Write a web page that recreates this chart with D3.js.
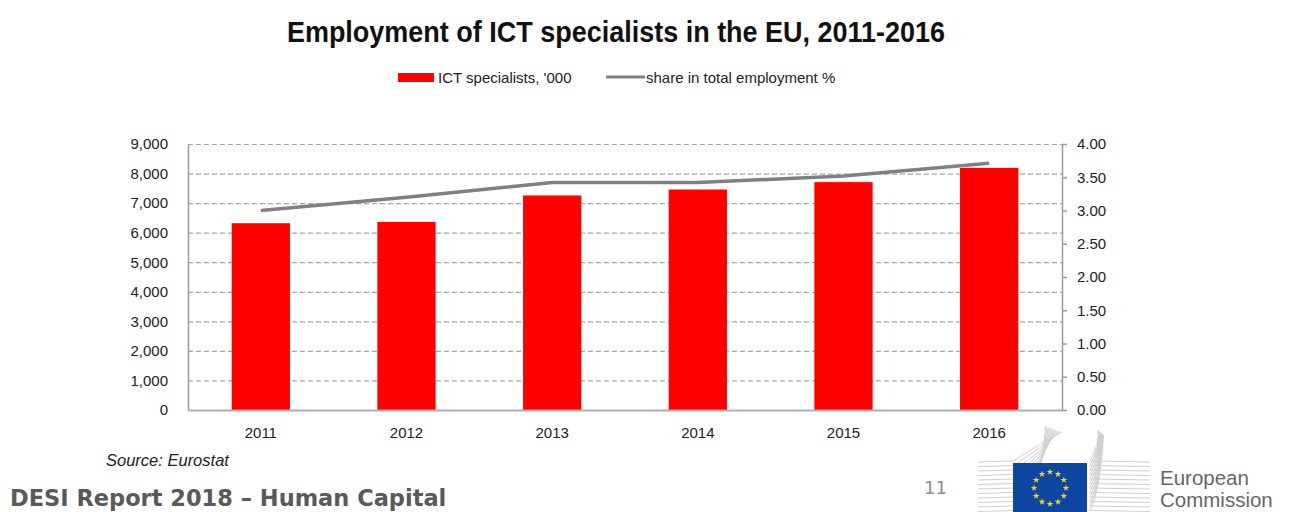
<!DOCTYPE html>
<html>
<head>
<meta charset="utf-8">
<script src="https://cdn.jsdelivr.net/npm/d3@7/dist/d3.min.js"></script>
<style>
  html, body { margin: 0; padding: 0; background: #fff; }
  svg { display: block; }
  text { font-family: "Liberation Sans", Arial, sans-serif; fill: #222; }
</style>
</head>
<body>
<svg id="chart" width="1294" height="512"></svg>
<script>
// ICT specialists employed in the EU (thousands) and their share in total employment (%)
const years = ["2011", "2012", "2013", "2014", "2015", "2016"];
const ictSpecialists = [6320, 6360, 7260, 7460, 7710, 8190];
const employmentShare = [3.00, 3.20, 3.42, 3.42, 3.52, 3.71];
const leftTicks = [0, 1000, 2000, 3000, 4000, 5000, 6000, 7000, 8000, 9000];
const rightTicks = [0, 0.5, 1, 1.5, 2, 2.5, 3, 3.5, 4];
const legendLabels = ["ICT specialists, '000", "share in total employment %"];

const svg = d3.select("#chart");
const plot = { left: 188, right: 1062, top: 144, bottom: 410 };

const x = d3.scaleBand().domain(years).range([plot.left, plot.right]).paddingInner(0.6).paddingOuter(0.3);
const yLeft = d3.scaleLinear().domain([0, 9000]).range([plot.bottom, plot.top]);
const yRight = d3.scaleLinear().domain([0, 4]).range([plot.bottom, plot.top]);

// Title, condensed horizontally
svg.append("g")
  .attr("transform", "translate(616,42) scale(0.9,1)")
  .append("text")
  .attr("text-anchor", "middle")
  .style("font-weight", "bold").style("font-size", "30px").style("fill", "#111")
  .text("Employment of ICT specialists in the EU, 2011-2016");

// Legend
const legend = svg.append("g");
legend.append("rect").attr("x", 398).attr("y", 73).attr("width", 36).attr("height", 9).attr("fill", "#ff0000");
legend.append("text").attr("x", 438).attr("y", 83).style("font-size", "15px").text(legendLabels[0]);
legend.append("line").attr("x1", 606).attr("x2", 645).attr("y1", 77).attr("y2", 77)
  .attr("stroke", "#808080").attr("stroke-width", 3);
legend.append("text").attr("x", 646).attr("y", 83).style("font-size", "15px").text(legendLabels[1]);

// Dashed horizontal gridlines
svg.append("g")
  .selectAll("line")
  .data(leftTicks.filter(d => d > 0))
  .join("line")
  .attr("x1", plot.left).attr("x2", plot.right)
  .attr("y1", d => yLeft(d) + 0.5).attr("y2", d => yLeft(d) + 0.5)
  .attr("stroke", "#a6a6a6").attr("stroke-width", 1.2).attr("stroke-dasharray", "5,3");

// Bars
svg.append("g")
  .selectAll("rect")
  .data(years.map((yr, i) => ({ yr, v: ictSpecialists[i] })))
  .join("rect")
  .attr("x", d => x(d.yr))
  .attr("width", x.bandwidth())
  .attr("y", d => yLeft(d.v))
  .attr("height", d => yLeft(0) - yLeft(d.v))
  .attr("fill", "#ff0000");

// Share line
const line = d3.line()
  .x((d, i) => x(years[i]) + x.bandwidth() / 2)
  .y(d => yRight(d));
svg.append("path")
  .datum(employmentShare)
  .attr("d", line)
  .attr("fill", "none")
  .attr("stroke", "#808080")
  .attr("stroke-width", 3.5);

// Left axis
const leftAxis = svg.append("g")
  .attr("transform", `translate(${plot.left},0)`)
  .call(d3.axisLeft(yLeft).tickValues(leftTicks).tickFormat(d3.format(",")).tickSize(0).tickPadding(20));
leftAxis.select(".domain").attr("stroke", "#9a9a9a").attr("stroke-width", 1.5);
leftAxis.selectAll("text").style("font-size", "15px").style("fill", "#222")
  .style("font-family", "'Liberation Sans', Arial, sans-serif");

// Right axis
const rightAxis = svg.append("g")
  .attr("transform", `translate(${plot.right},0)`)
  .call(d3.axisRight(yRight).tickValues(rightTicks).tickFormat(d3.format(".2f")).tickSize(5).tickSizeOuter(0).tickPadding(10));
rightAxis.select(".domain").attr("stroke", "#9a9a9a").attr("stroke-width", 1.5);
rightAxis.selectAll(".tick line").attr("stroke", "#9a9a9a").attr("stroke-width", 1.5);
rightAxis.selectAll("text").style("font-size", "15px").style("fill", "#222")
  .style("font-family", "'Liberation Sans', Arial, sans-serif");

// Bottom axis
const bottomAxis = svg.append("g")
  .attr("transform", `translate(0,${plot.bottom})`)
  .call(d3.axisBottom(x).tickSize(0).tickPadding(17));
bottomAxis.select(".domain").attr("stroke", "#b0b0b0").attr("stroke-width", 2);
bottomAxis.selectAll("text").style("font-size", "15px").style("fill", "#222")
  .style("font-family", "'Liberation Sans', Arial, sans-serif");

// Source note
svg.append("text")
  .attr("x", 106).attr("y", 466)
  .style("font-style", "italic").style("font-size", "16.5px")
  .text("Source:  Eurostat");

// Footer
svg.append("text")
  .attr("x", 10).attr("y", 506)
  .style("font-family", "'DejaVu Sans', Verdana, sans-serif")
  .style("font-weight", "bold").style("font-size", "22.5px").style("fill", "#595959")
  .text("DESI Report 2018 \u2013 Human Capital");

svg.append("text")
  .attr("x", 924).attr("y", 494)
  .style("font-family", "'DejaVu Sans', Verdana, sans-serif")
  .style("font-size", "18px").style("fill", "#8c8c8c")
  .text("11");

// Commission logo: building outline, flag, wordmark
const logo = svg.append("g");
const wingLines = d3.range(0, 12);
logo.selectAll(".lw")
  .data(wingLines)
  .join("path")
  .attr("d", i => {
    const y0 = 462 + i * 4.5;
    return `M${978},${y0} L1013,${y0 - 1} Q1040,${y0 - 18 + i * 0.5} ${1062 - i * 1.5},${432 - 0.5 * i}`;
  })
  .attr("fill", "none").attr("stroke", "#cfcfcf").attr("stroke-width", 1);
logo.selectAll(".rw")
  .data(wingLines)
  .join("path")
  .attr("d", i => {
    const y0 = 462 + i * 4.5;
    return `M${1150},${y0} L1090,${y0 - 1} Q1100,${y0 - 20} ${1098 + i * 0.5},${430 + i * 0.5}`;
  })
  .attr("fill", "none").attr("stroke", "#cfcfcf").attr("stroke-width", 1);
logo.append("rect").attr("x", 1013).attr("y", 463).attr("width", 74).attr("height", 50).attr("fill", "#0e47a1");
logo.selectAll(".star")
  .data(d3.range(12))
  .join("path")
  .attr("d", d3.symbol(d3.symbolStar, 14))
  .attr("transform", i => {
    const a = i * Math.PI / 6;
    return `translate(${1050 + 16 * Math.sin(a)},${488 - 16 * Math.cos(a)})`;
  })
  .attr("fill", "#ffdd00");
logo.append("text").attr("x", 1160).attr("y", 485)
  .style("font-size", "20.5px").style("fill", "#666")
  .text("European");
logo.append("text").attr("x", 1160).attr("y", 507)
  .style("font-size", "20.5px").style("fill", "#666")
  .text("Commission");
</script>
</body>
</html>
